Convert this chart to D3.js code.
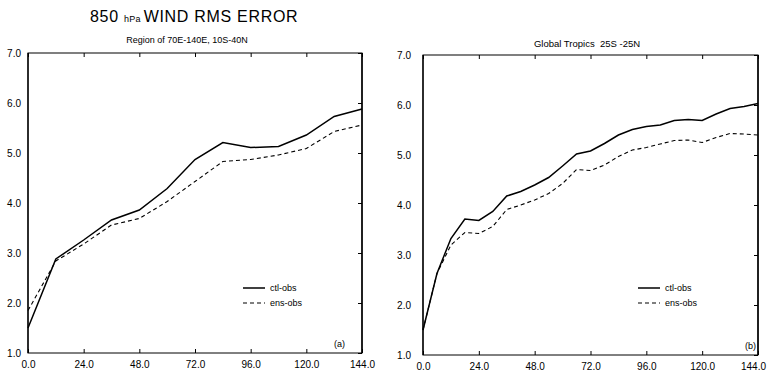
<!DOCTYPE html>
<html><head><meta charset="utf-8">
<script src="https://cdn.jsdelivr.net/npm/d3@7/dist/d3.min.js"></script>
<style>body{margin:0;background:#fff}svg{display:block;font-family:"Liberation Sans",Arial,Helvetica,sans-serif}</style>
</head><body><svg id="c" width="770" height="373"></svg>
<script>
// Data
const hoursA = [0,12,24,36,48,60,72,84,96,108,120,132,144];
const ctlA   = [1.5,2.88,3.26,3.66,3.86,4.29,4.87,5.21,5.11,5.13,5.36,5.73,5.88];
const ensA   = [1.85,2.84,3.18,3.56,3.69,4.03,4.43,4.83,4.87,4.96,5.09,5.43,5.56];
const hoursB = [0,6,12,18,24,30,36,42,48,54,60,66,72,78,84,90,96,102,108,114,120,126,132,138,144];
const ctlB   = [1.5,2.63,3.33,3.72,3.69,3.87,4.18,4.27,4.4,4.55,4.78,5.02,5.08,5.23,5.4,5.51,5.57,5.6,5.69,5.71,5.69,5.82,5.93,5.97,6.03];
const ensB   = [1.5,2.63,3.2,3.45,3.43,3.57,3.91,4.0,4.1,4.23,4.43,4.71,4.69,4.8,4.97,5.1,5.15,5.22,5.29,5.3,5.25,5.35,5.43,5.42,5.4];
const xTicks = [0,24,48,72,96,120,144];
const yTicks = [1,2,3,4,5,6,7];
const seriesNames = ["ctl-obs","ens-obs"];
const subtitles = ["Region of 70E-140E, 10S-40N","Global Tropics\u00a0 25S -25N"];
const panelTags = ["(a)","(b)"];

const svg = d3.select("#c");

// Title
const t = svg.append("text").attr("x",90).attr("y",22).attr("font-size",16).attr("letter-spacing",0.7);
t.append("tspan").text("850 ");
t.append("tspan").attr("font-size",9).attr("letter-spacing",0.3).text("hPa ");
t.append("tspan").text("WIND RMS ERROR");

const panels = [
  {x0:28,x1:362,y0:53,y1:353,hours:hoursA,ctl:ctlA,ens:ensA,sub:subtitles[0],subx:187,suby:43,subfs:9,labEnd:21,legX:243,tag:panelTags[0],tagX:334,lastDx:0},
  {x0:423,x1:758,y0:55,y1:355,hours:hoursB,ctl:ctlB,ens:ensB,sub:subtitles[1],subx:587,suby:47,subfs:9.5,labEnd:411,legX:638,tag:panelTags[1],tagX:745,lastDx:-5}
];

panels.forEach(p=>{
  const x = d3.scaleLinear().domain([0,144]).range([p.x0,p.x1]);
  const y = d3.scaleLinear().domain([1,7]).range([p.y1,p.y0]);
  const g = svg.append("g");
  g.append("text").attr("x",p.subx).attr("y",p.suby).attr("text-anchor","middle").attr("font-size",p.subfs).text(p.sub);
  // frame
  g.append("rect").attr("x",p.x0).attr("y",p.y0).attr("width",p.x1-p.x0).attr("height",p.y1-p.y0)
    .attr("fill","none").attr("stroke","#000").attr("stroke-width",1);
  g.append("line").attr("x1",p.x0).attr("x2",p.x0).attr("y1",p.y0).attr("y2",p.y1).attr("stroke","#000").attr("stroke-width",1.3);
  g.append("line").attr("x1",p.x1).attr("x2",p.x1).attr("y1",p.y0).attr("y2",p.y1).attr("stroke","#000").attr("stroke-width",1.5);
  // bottom axis labels & ticks
  const xa = d3.axisBottom(x).tickValues(xTicks).tickSize(-4).tickFormat(d3.format(".1f"));
  const gx = g.append("g").attr("transform",`translate(0,${p.y1})`).call(xa);
  gx.select(".domain").remove();
  gx.selectAll("text").attr("font-size",10).attr("dy","1.15em").attr("font-family","Liberation Sans,Arial,sans-serif")
    .attr("dx",(d)=> d===144 ? p.lastDx : 0);
  const xt = d3.axisTop(x).tickValues(xTicks).tickSize(-4).tickFormat("");
  const gxt = g.append("g").attr("transform",`translate(0,${p.y0})`).call(xt);
  gxt.select(".domain").remove();
  // y labels
  const ya = d3.axisLeft(y).tickValues(yTicks).tickSize(0).tickPadding(p.x0-p.labEnd).tickFormat(d3.format(".1f"));
  const gy = g.append("g").attr("transform",`translate(${p.x0},0)`).call(ya);
  gy.select(".domain").remove();
  gy.selectAll("text").attr("font-size",10).attr("font-family","Liberation Sans,Arial,sans-serif");
  const yr = d3.axisRight(y).tickValues(yTicks).tickSize(-4).tickFormat("");
  const gyr = g.append("g").attr("transform",`translate(${p.x1},0)`).call(yr);
  gyr.select(".domain").remove();
  // lines
  const line = d3.line().x(d=>x(d[0])).y(d=>y(d[1]));
  g.append("path").datum(p.hours.map((h,i)=>[h,p.ens[i]])).attr("d",line)
    .attr("fill","none").attr("stroke","#000").attr("stroke-width",1.1).attr("stroke-dasharray","4,3");
  g.append("path").datum(p.hours.map((h,i)=>[h,p.ctl[i]])).attr("d",line)
    .attr("fill","none").attr("stroke","#000").attr("stroke-width",1.5);
  // legend
  seriesNames.forEach((n,i)=>{
    const ly = 288 + i*15;
    g.append("line").attr("x1",p.legX).attr("x2",p.legX+22).attr("y1",ly).attr("y2",ly)
      .attr("stroke","#000").attr("stroke-width",i?1.1:1.5).attr("stroke-dasharray",i?"4,3":null);
    g.append("text").attr("x",p.legX+27).attr("y",ly+3).attr("font-size",9).text(n);
  });
  g.append("text").attr("x",p.tagX).attr("y",p.y1-6).attr("font-size",9).text(p.tag);
});
</script></body></html>
